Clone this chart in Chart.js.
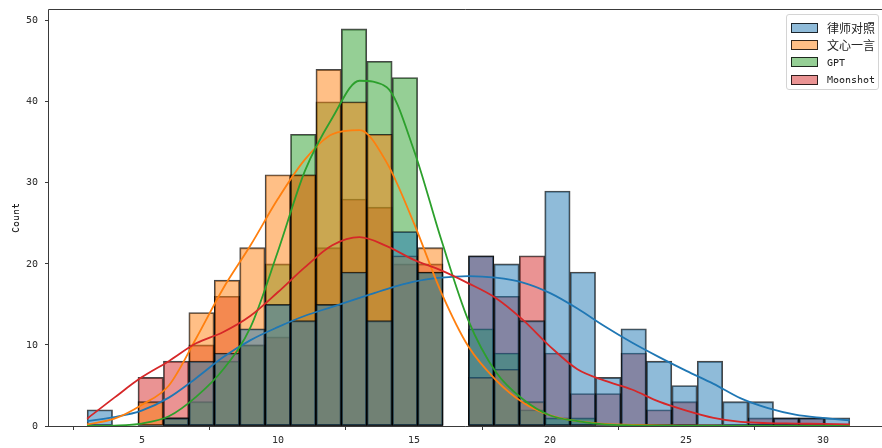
<!DOCTYPE html>
<html>
<head>
<meta charset="utf-8">
<script src="https://cdn.jsdelivr.net/npm/chart.js@4.4.1/dist/chart.umd.min.js"></script>
<style>
  @font-face { font-family: "HalfMono"; src: local("DejaVu Sans Mono"); size-adjust: 85%; }
  html, body { margin: 0; padding: 0; background: #fff; }
  #wrap { position: relative; width: 882px; height: 448px; overflow: hidden; }
  #legend {
    position: absolute; left: 786px; top: 14px; width: 93px; height: 76px;
    box-sizing: border-box; border: 1px solid #d4d4d4; border-radius: 3px;
    background: rgba(255,255,255,0.8);
    font-family: "HalfMono", "Noto Sans CJK SC", monospace; font-size: 12px; color: #222;
  }
  .item { position: absolute; left: 4px; height: 17px; display: flex; align-items: center; white-space: nowrap; }
  .sw { width: 27px; height: 10px; box-sizing: border-box; border: 1px solid rgba(0,0,0,0.8); margin-right: 9px; }
</style>
</head>
<body>
<div id="wrap">
  <canvas id="c" width="882" height="448"></canvas>
  <div id="legend"></div>
</div>
<script>
// Series names (legend order)
const seriesNames = ['律师对照', '文心一言', 'GPT', 'Moonshot'];
const seriesColors = ['31,119,180', '255,127,14', '44,160,44', '214,39,40'];

// Histogram bins: 30 equal-width bins spanning the score range
const binStart = 3;
const binEnd = 31;
const binCount = 30;

// Counts per bin
const countsLawyer   = [2,0,0,1,8,9,12,15,13,15,19,13,24,19,0,21,20,13,29,19,6,12,8,5,8,3,3,1,1,1];
const countsWenxin   = [0,0,3,1,14,18,22,31,31,44,40,36,21,22,0,6,7,3,0,0,0,0,0,0,0,0,0,0,0,0];
const countsGPT      = [0,0,0,1,3,8,10,20,36,40,49,45,43,19,0,12,9,2,1,1,0,0,0,0,0,0,0,0,0,0];
const countsMoonshot = [0,0,6,8,10,16,10,11,31,22,28,27,20,20,0,21,16,21,9,4,4,9,2,3,0,0,1,1,1,0];

// Density curves (scaled to counts), sampled at each score
const kdeX = [3,4,5,6,7,8,9,10,11,12,13,14,15,16,17,18,19,20,21,22,23,24,25,26,27,28,29,30,31];
const kdeLawyer   = [0.6,1.1,1.9,3.5,5.9,8.5,10.6,12.2,13.6,14.7,15.8,16.9,17.8,18.3,18.5,18.3,17.7,16.4,14.5,12.3,10.3,8.5,6.8,5.2,3.4,2.2,1.4,1.0,0.7];
const kdeWenxin   = [0.2,0.9,2.6,5.0,10.8,17.0,22.3,28.0,32.9,36.0,36.5,32.5,25.0,16.5,9.8,5.7,2.9,1.3,0.6,0.25,0.15,0.08,0.05,0.03,0.02,0.01,0.01,0,0];
const kdeGPT      = [0,0.05,0.3,1.2,3.6,7.0,12.2,21.5,31.5,38.0,42.6,41.8,34.0,23.0,13.0,6.7,3.3,1.3,0.6,0.2,0.08,0.03,0.01,0,0,0,0,0,0];
const kdeMoonshot = [0.9,3.5,6.0,8.0,10.2,11.6,13.6,16.5,19.6,22.3,23.3,22.2,20.5,19.2,17.6,15.8,13.1,9.8,7.0,5.6,4.5,3.0,1.9,1.0,0.5,0.35,0.3,0.25,0.2];

// Axis ticks
const xTicks = [5, 10, 15, 20, 25, 30];
const yTicks = [0, 10, 20, 30, 40, 50];
const yTitle = 'Count';

const countSeries = [countsLawyer, countsWenxin, countsGPT, countsMoonshot];
const kdeSeries = [kdeLawyer, kdeWenxin, kdeGPT, kdeMoonshot];

const binWidth = (binEnd - binStart) / binCount;
const xMin = binStart - 0.05 * (binEnd - binStart);
const xMax = 32.15;
const yMax = 49 * 1.05;

const datasets = [];
countSeries.forEach((counts, i) => {
  datasets.push({
    type: 'bar',
    label: seriesNames[i],
    data: counts.map((c, k) => ({ x: binStart + (k + 0.5) * binWidth, y: c })),
    backgroundColor: `rgba(${seriesColors[i]},0.5)`,
    borderColor: 'rgba(0,0,0,0.72)',
    borderWidth: 1.2,
    borderSkipped: false,
    grouped: false,
    categoryPercentage: 1,
    barPercentage: 1,
    order: 10 + i
  });
});
kdeSeries.forEach((vals, i) => {
  datasets.push({
    type: 'line',
    label: seriesNames[i] + ' kde',
    data: vals.map((v, k) => ({ x: kdeX[k], y: v })),
    borderColor: `rgb(${seriesColors[i]})`,
    borderWidth: 1.8,
    pointRadius: 0,
    fill: false,
    cubicInterpolationMode: 'monotone',
    order: 4 - i
  });
});

// Frame lines (left, bottom, top) around the plotting area
const framePlugin = {
  id: 'frame',
  afterDatasetsDraw(chart) {
    const a = chart.chartArea;
    const ctx = chart.ctx;
    ctx.save();
    ctx.strokeStyle = '#3a3a3a';
    ctx.lineWidth = 1;
    ctx.beginPath();
    const l = Math.round(a.left) - 0.5, t = Math.round(a.top) + 0.5, b = Math.round(a.bottom) + 0.5;
    ctx.moveTo(a.right + 2, t); ctx.lineTo(l, t); ctx.lineTo(l, b); ctx.lineTo(a.right + 2, b);
    ctx.stroke();
    ctx.restore();
  }
};

const tickFont = { family: 'HalfMono, "DejaVu Sans Mono", "Noto Sans CJK SC"', size: 12 };

const chart = new Chart(document.getElementById('c'), {
  type: 'bar',
  data: { datasets },
  options: {
    responsive: false,
    devicePixelRatio: 1,
    animation: false,
    layout: { padding: { top: 9, right: 0, left: 0, bottom: 0 } },
    plugins: { legend: { display: false }, tooltip: { enabled: false } },
    scales: {
      x: {
        type: 'linear',
        min: xMin,
        max: xMax,
        offset: false,
        afterFit(scale) { scale.height = 22; scale.paddingLeft = 0; scale.paddingRight = 0; },
        afterBuildTicks(scale) { scale.ticks = xTicks.map(v => ({ value: v })); },
        grid: { display: true, drawOnChartArea: false, drawTicks: true, tickLength: 4, color: '#3a3a3a' },
        border: { display: false },
        ticks: { font: tickFont, color: '#333', padding: 3, maxRotation: 0 }
      },
      y: {
        type: 'linear',
        min: 0,
        max: yMax,
        afterFit(scale) { scale.width = 49; scale.paddingTop = 0; scale.paddingBottom = 0; },
        afterBuildTicks(scale) { scale.ticks = yTicks.map(v => ({ value: v })); },
        grid: { display: true, drawOnChartArea: false, drawTicks: true, tickLength: 4, color: '#3a3a3a' },
        border: { display: false },
        ticks: { font: tickFont, color: '#333', padding: 7 },
        title: { display: true, text: yTitle, font: tickFont, color: '#222', padding: { top: 9, bottom: 0 } }
      }
    }
  },
  plugins: [framePlugin]
});

// Legend
const legend = document.getElementById('legend');
seriesNames.forEach((name, i) => {
  const item = document.createElement('div');
  item.className = 'item';
  item.style.top = (4 + i * 17.4) + 'px';
  const sw = document.createElement('span');
  sw.className = 'sw';
  sw.style.background = `rgba(${seriesColors[i]},0.5)`;
  const tx = document.createElement('span');
  tx.textContent = name;
  item.appendChild(sw);
  item.appendChild(tx);
  legend.appendChild(item);
});

if (document.fonts && document.fonts.load) {
  document.fonts.load('12px HalfMono').then(() => chart.update('none')).catch(() => {});
}
</script>
</body>
</html>
